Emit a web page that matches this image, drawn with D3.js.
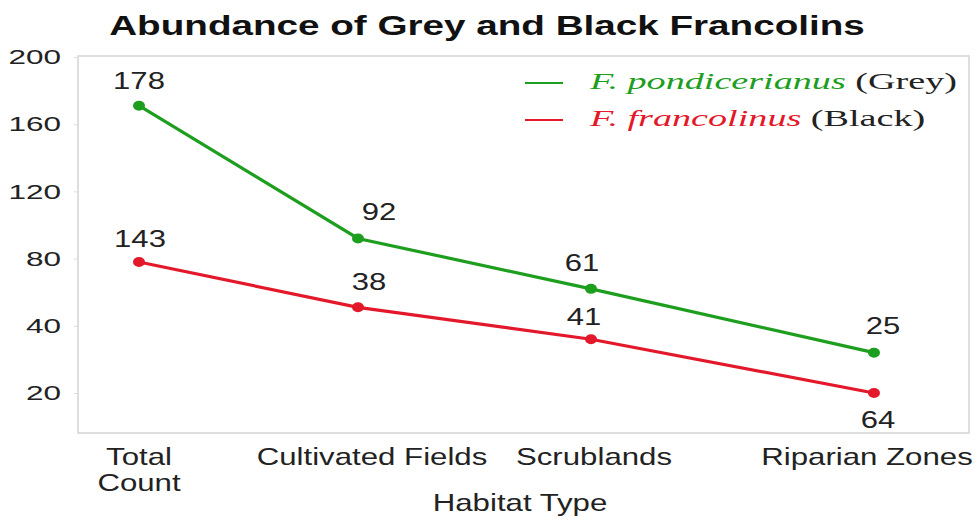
<!DOCTYPE html>
<html>
<head>
<meta charset="utf-8">
<script src="https://cdn.jsdelivr.net/npm/d3@7"></script>
<style>
  body { margin: 0; background: #fff; }
  svg { display: block; }
</style>
</head>
<body>
<svg id="chart" width="979" height="520"></svg>
<script>
// data
const habitats = ["Total Count", "Cultivated Fields", "Scrublands", "Riparian Zones"];
const greyCounts = [171, 92, 62, 32];
const blackCounts = [78, 51, 36, 20];
const greyLabels = [178, 92, 61, 25];
const blackLabels = [143, 38, 41, 64];
const yTicks = [20, 40, 80, 120, 160, 200];
const seriesNames = ["F. pondicerianus", "F. francolinus"];
const seriesSuffix = ["(Grey)", "(Black)"];

// layout
const box = { left: 78, right: 969, top: 56, bottom: 433 };
const xStops = [139, 358, 591, 874];
const xLabelNudge = [0, 14, 3, -7];
const greyOffsets = [[0, -17], [21, -18], [-9, -18], [9, -19]];
const blackOffsets = [[1, -15], [11, -17], [-7, -14], [4, 35]];
const green = "#1e9e1e", red = "#e3182a", ink = "#222";

const svg = d3.select("#chart");

function stretched(g, x, y, str, size, sx, anchor) {
    return g.append("text")
        .attr("transform", `translate(${x},${y}) scale(${sx},1)`)
        .attr("text-anchor", anchor || "middle")
        .attr("font-size", size)
        .attr("fill", ink)
        .text(str);
}

const x = d3.scaleOrdinal().domain(habitats).range(xStops);
const y = d3.scaleLinear()
    .domain(yTicks)
    .range(yTicks.map((d, i) => 393 - i * (393 - 57) / (yTicks.length - 1)));

svg.attr("font-family", "'Liberation Sans', Arial, sans-serif");

// title
stretched(svg, 487, 35, "Abundance of Grey and Black Francolins", 28, 1.38)
    .attr("font-weight", "bold")
    .attr("fill", "#111");

// frame
svg.append("rect")
    .attr("x", box.left).attr("y", box.top)
    .attr("width", box.right - box.left).attr("height", box.bottom - box.top)
    .attr("fill", "none").attr("stroke", "#d4d4d4").attr("stroke-width", 1.5);

// y axis
const ySx = 1.5;
const yAxis = svg.append("g")
    .attr("transform", `translate(${box.left},0)`)
    .call(d3.axisLeft(y).tickValues(yTicks).tickSize(4).tickPadding(14));
yAxis.select(".domain").remove();
yAxis.selectAll(".tick line").attr("stroke", "#ddd");
yAxis.selectAll(".tick text")
    .attr("font-size", 21)
    .attr("font-family", "'Liberation Sans', Arial, sans-serif")
    .attr("fill", ink)
    .attr("x", -17 / ySx)
    .attr("transform", `scale(${ySx},1)`);

// x labels
const xg = svg.append("g");
habitats.forEach((h, i) => {
    const words = h === "Total Count" ? ["Total", "Count"] : [h];
    words.forEach((w, j) => {
        stretched(xg, x(h) + xLabelNudge[i], 465 + j * 26, w, 24, 1.3);
    });
});
stretched(svg, 520, 511, "Habitat Type", 24, 1.3);

// lines and points
const line = d3.line()
    .x((d, i) => x(habitats[i]))
    .y(d => y(d));

[[greyCounts, green, greyLabels, greyOffsets], [blackCounts, red, blackLabels, blackOffsets]]
    .forEach(([vals, col, labs, offs]) => {
        svg.append("path")
            .datum(vals)
            .attr("d", line)
            .attr("fill", "none")
            .attr("stroke", col)
            .attr("stroke-width", 3.2);
        svg.append("g").selectAll("ellipse")
            .data(vals)
            .join("ellipse")
            .attr("cx", (d, i) => x(habitats[i]))
            .attr("cy", d => y(d))
            .attr("rx", 6).attr("ry", 5)
            .attr("fill", col);
        const lg = svg.append("g");
        vals.forEach((d, i) => {
            stretched(lg, x(habitats[i]) + offs[i][0], y(d) + offs[i][1], labs[i], 23, 1.35);
        });
    });

// legend
const leg = svg.append("g").attr("font-family", "'Liberation Serif', 'Times New Roman', serif");
[green, red].forEach((col, i) => {
    const ly = 83 + i * 37;
    leg.append("line")
        .attr("x1", 525).attr("x2", 563)
        .attr("y1", ly).attr("y2", ly)
        .attr("stroke", col).attr("stroke-width", 2);
    const t = leg.append("text")
        .attr("transform", `translate(590,${ly + 6}) scale(1.66,1)`)
        .attr("font-size", 23)
        .attr("fill", ink);
    t.append("tspan").attr("font-style", "italic").attr("fill", col).text(seriesNames[i]);
    t.append("tspan").text(" " + seriesSuffix[i]);
});
</script>
</body>
</html>
